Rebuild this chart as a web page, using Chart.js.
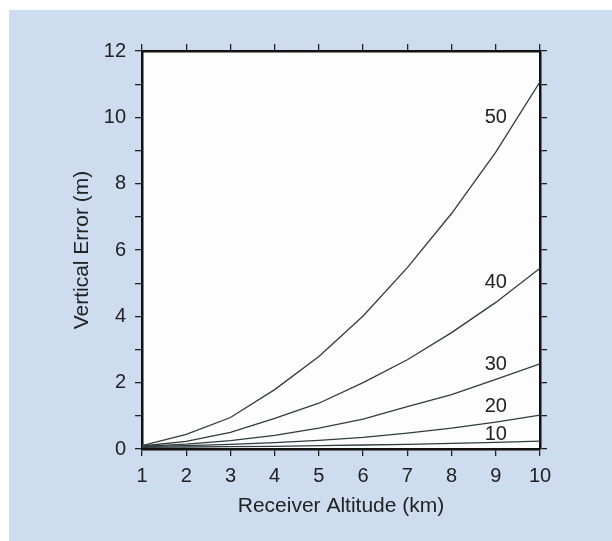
<!DOCTYPE html>
<html>
<head>
<meta charset="utf-8">
<script src="https://cdn.jsdelivr.net/npm/chart.js@4/dist/chart.umd.min.js"></script>
<style>
  html, body { margin: 0; padding: 0; background: #fff; }
  #panel { position: absolute; left: 9px; top: 10px; right: 0; bottom: 0; background: #cedcef; }
  #wrap { position: absolute; left: 0; top: 0; width: 612px; height: 541px; }
</style>
</head>
<body>
<div id="panel"></div>
<div id="wrap"><canvas id="chart" width="612" height="541"></canvas></div>
<script>
// receiver altitude (km) and vertical error (m) per elevation curve
var altitudes = [1, 2, 3, 4, 5, 6, 7, 8, 9, 10];
var err10 = [0.05, 0.06, 0.07, 0.08, 0.1, 0.12, 0.14, 0.17, 0.2, 0.24];
var err20 = [0.07, 0.1, 0.14, 0.19, 0.26, 0.35, 0.48, 0.63, 0.81, 1.02];
var err30 = [0.08, 0.15, 0.25, 0.41, 0.63, 0.9, 1.28, 1.64, 2.1, 2.57];
var err40 = [0.09, 0.23, 0.5, 0.92, 1.38, 2.0, 2.69, 3.51, 4.42, 5.45];
var err50 = [0.1, 0.44, 0.95, 1.79, 2.79, 4.01, 5.47, 7.1, 8.95, 11.07];
var curveNames = ["10", "20", "30", "40", "50"];
// where the curve names sit, in axis units
var nameX = [9.0, 9.0, 9.0, 9.0, 9.0];
var nameY = [0.45, 1.27, 2.56, 5.03, 10.0];

var fontFamily = "'Liberation Sans', Arial, Helvetica, sans-serif";
var ink = '#222';
var lineColor = '#2f3d3d';

function series(values) {
    return altitudes.map(function (a, i) { return {x: a, y: values[i]}; });
}

var allSeries = [err10, err20, err30, err40, err50];
var datasets = allSeries.map(function (vals, i) {
    return {
        label: curveNames[i],
        data: series(vals),
        borderColor: lineColor,
        borderWidth: 1.3,
        pointRadius: 0,
        tension: 0,
        fill: false
    };
});

var plotBackground = {
    id: 'plotBackground',
    beforeDraw: function (chart) {
        var a = chart.chartArea, ctx = chart.ctx;
        ctx.save();
        ctx.fillStyle = '#fdfdfd';
        ctx.fillRect(a.left, a.top, a.right - a.left, a.bottom - a.top);
        ctx.restore();
    }
};

var curveLabels = {
    id: 'curveLabels',
    afterDatasetsDraw: function (chart) {
        var ctx = chart.ctx, xs = chart.scales.x, ys = chart.scales.y;
        ctx.save();
        ctx.font = '20px ' + fontFamily;
        ctx.fillStyle = ink;
        ctx.textAlign = 'center';
        ctx.textBaseline = 'middle';
        curveNames.forEach(function (name, i) {
            ctx.fillText(name, xs.getPixelForValue(nameX[i]), ys.getPixelForValue(nameY[i]));
        });
        ctx.restore();
    }
};

var tickGrid = {drawOnChartArea: false, tickLength: 7, color: ink, lineWidth: 1.3};
var frame = {color: '#111', width: 2.5};

new Chart(document.getElementById('chart'), {
    type: 'line',
    data: {datasets: datasets},
    plugins: [plotBackground, curveLabels],
    options: {
        responsive: false,
        animation: false,
        layout: {padding: 0},
        plugins: {legend: {display: false}, tooltip: {enabled: false}},
        scales: {
            x: {
                type: 'linear', position: 'bottom', min: 1, max: 10,
                ticks: {stepSize: 1, padding: 8, color: ink, font: {family: fontFamily, size: 20}},
                grid: tickGrid, border: frame,
                title: {display: true, text: 'Receiver Altitude (km)', color: ink,
                    font: {family: fontFamily, size: 21}, padding: {top: 0, bottom: 22}},
                afterFit: function (s) { s.height = 92; }
            },
            x2: {
                type: 'linear', position: 'top', min: 1, max: 10,
                ticks: {stepSize: 1, display: false},
                grid: tickGrid, border: frame,
                afterFit: function (s) { s.height = 51; }
            },
            y: {
                type: 'linear', position: 'left', min: 0, max: 12,
                ticks: {stepSize: 1, padding: 9, color: ink, font: {family: fontFamily, size: 20},
                    callback: function (v) { return v % 2 === 0 ? v : ''; }},
                grid: tickGrid, border: frame,
                title: {display: true, text: 'Vertical Error (m)', color: ink,
                    font: {family: fontFamily, size: 21}, padding: {top: 70, bottom: 0}},
                afterFit: function (s) { s.width = 142; }
            },
            y2: {
                type: 'linear', position: 'right', min: 0, max: 12,
                ticks: {stepSize: 1, display: false},
                grid: tickGrid, border: frame,
                afterFit: function (s) { s.width = 72; }
            }
        }
    }
});
</script>
</body>
</html>
